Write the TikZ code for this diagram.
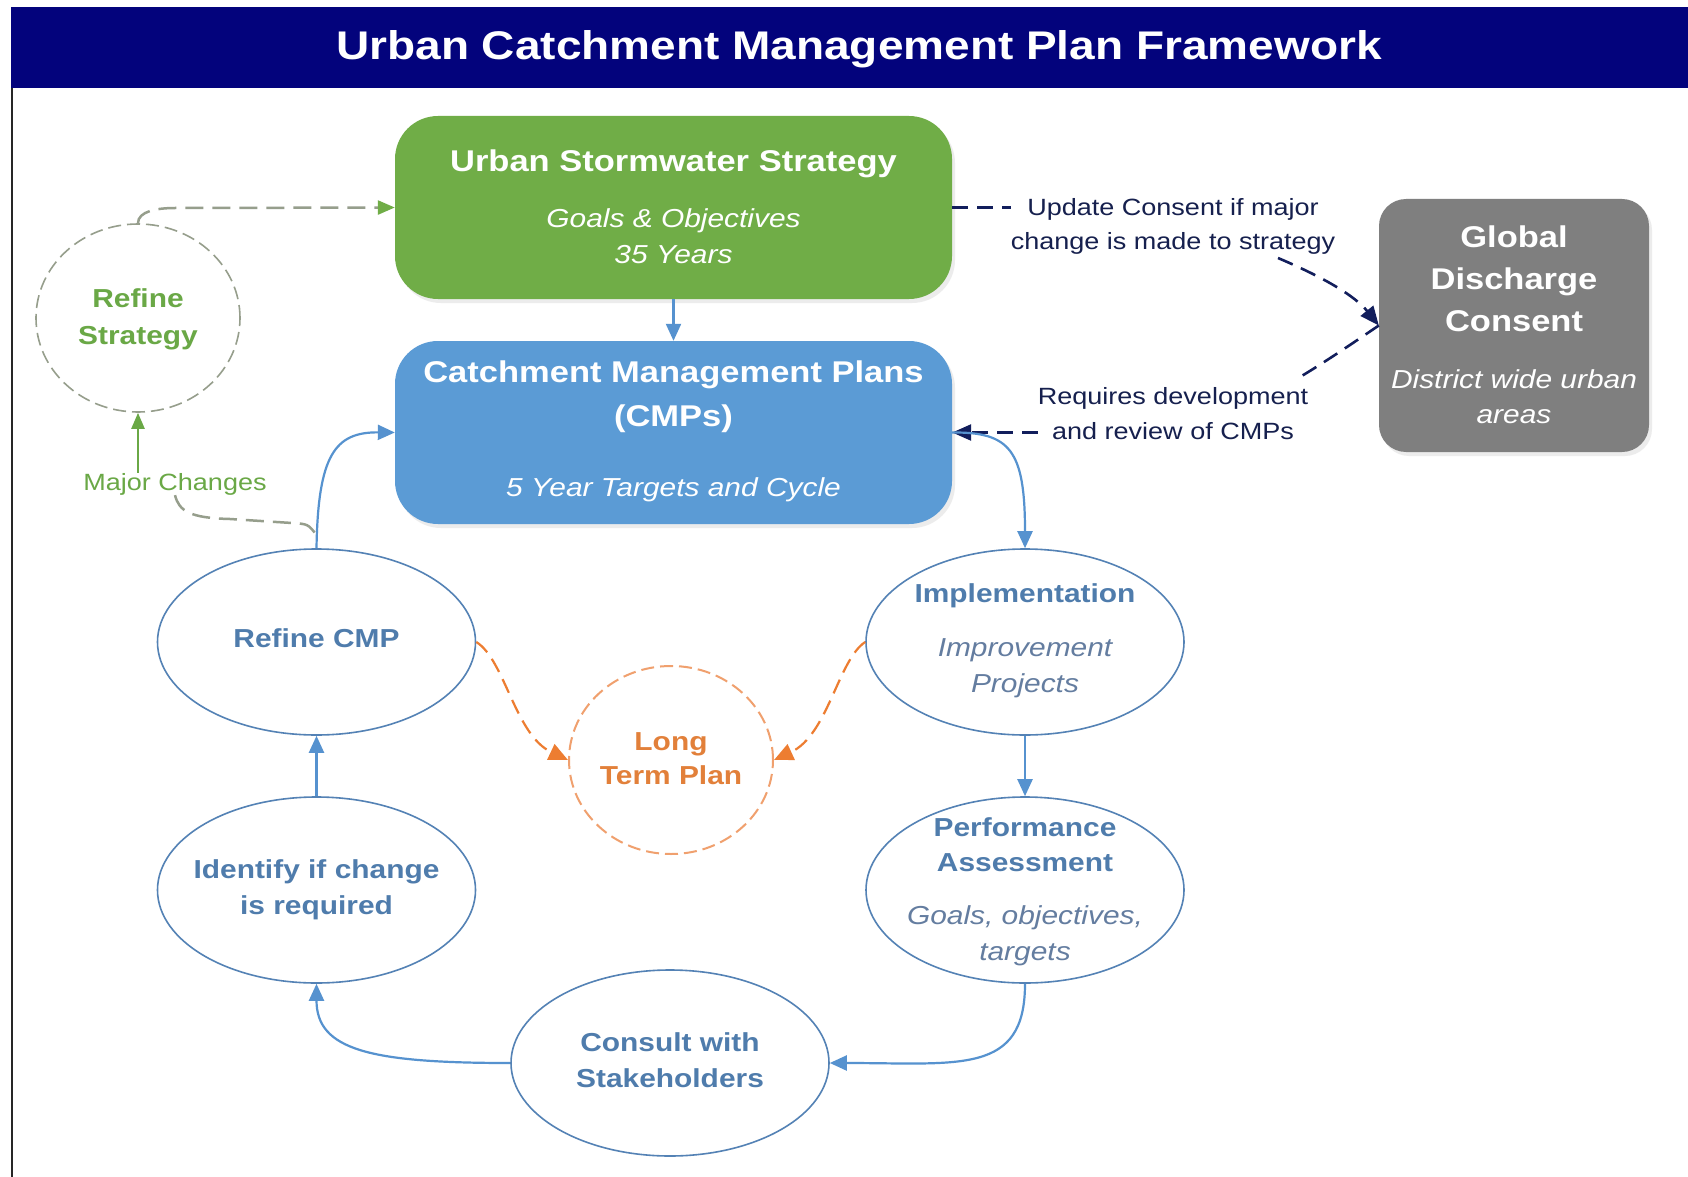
\documentclass[tikz,border=0pt]{standalone}
\usepackage{fontspec}
\setmainfont{Liberation Sans}[FakeStretch=1.15]
\usetikzlibrary{arrows.meta,shapes.geometric,shadows}

\definecolor{cnavybar}{RGB}{3,3,124}
\definecolor{cgreen}{RGB}{112,173,71}
\definecolor{cblue}{RGB}{91,155,213}
\definecolor{cgrey}{RGB}{127,127,127}
\definecolor{cring}{RGB}{84,130,181}
\definecolor{ctxtblue}{RGB}{79,124,172}
\definecolor{ctxtblueit}{RGB}{100,125,160}
\definecolor{carrblue}{RGB}{86,146,207}
\definecolor{cnavyline}{RGB}{18,30,92}
\definecolor{cnavytxt}{RGB}{22,32,78}
\definecolor{cdashgrey}{RGB}{150,158,140}
\definecolor{ctxtgreen}{RGB}{106,168,70}
\definecolor{corng}{RGB}{237,125,49}
\definecolor{corngtxt}{RGB}{226,128,58}
\definecolor{corngring}{RGB}{240,160,110}

\begin{document}
\begin{tikzpicture}[x=1pt,y=-1pt,
  bigbox/.style={rectangle, rounded corners=43pt, minimum width=557pt, minimum height=183pt, draw=none, inner sep=0pt,
    drop shadow={opacity=0.15, shadow xshift=3pt, shadow yshift=-4pt}},
  greybox/.style={rectangle, rounded corners=27pt, minimum width=270pt, minimum height=253pt, draw=none, inner sep=0pt, fill=cgrey,
    drop shadow={opacity=0.15, shadow xshift=3pt, shadow yshift=-4pt}},
  titletxt/.style={text=white, font=\fontsize{40}{48}\selectfont\bfseries, inner sep=0pt},
  whitebold/.style={text=white, align=center, inner sep=0pt, font=\fontsize{30}{42}\selectfont\bfseries},
  whiteit/.style={text=white, align=center, inner sep=0pt, font=\fontsize{26}{36}\selectfont\itshape},
  navylbl/.style={text=cnavytxt, align=center, inner sep=0pt, font=\fontsize{23.5}{34}\selectfont},
  ring/.style={ellipse, draw=cring, line width=1.6pt, fill=white, minimum width=318pt, minimum height=186pt, inner sep=0pt},
  dashring/.style={ellipse, line width=1.6pt, dash pattern=on 13pt off 6pt, fill=white, minimum width=204pt, minimum height=188pt, inner sep=0pt},
  ringtxt/.style={align=center, inner sep=0pt, text=ctxtblue, font=\fontsize{26}{36}\selectfont\bfseries},
  ringit/.style={align=center, inner sep=0pt, text=ctxtblueit, font=\fontsize{26}{36}\selectfont\itshape},
  bluearr/.style={draw=carrblue, line width=2.2pt, -{Triangle[length=17pt,width=15pt]}},
  navydash/.style={draw=cnavyline, line width=2.6pt, dash pattern=on 16pt off 9pt},
  navyarr/.style={navydash, -{Triangle[length=19pt,width=16pt]}},
  orngarr/.style={draw=corng, line width=2.2pt, dash pattern=on 15pt off 8pt, -{Triangle[length=19pt,width=17pt]}},
  greydash/.style={draw=cdashgrey, line width=2.5pt, dash pattern=on 18pt off 9pt},
]
\useasboundingbox (0,0) rectangle (1688,1177);
\fill[white] (0,0) rectangle (1688,1177);

% title bar and frame
\fill[cnavybar] (11,7) rectangle (1688,88);
\draw[line width=2.5pt, black!85] (12,88) -- (12,1177);
\node[titletxt] (title) at (859,49) {Urban Catchment Management Plan Framework};

% main boxes
\node[bigbox, fill=cgreen] (usss) at (673.5,207.5) {};
\node[whitebold] (usssT) at (673.5,164) {Urban Stormwater Strategy};
\node[whiteit] (usssS) at (673.5,236) {Goals \& Objectives\\35 Years};

\node[bigbox, fill=cblue] (cmp) at (673.5,432.5) {};
\node[whitebold, font=\fontsize{30}{44}\selectfont\bfseries] (cmpT) at (673.5,397) {Catchment Management Plans\\(CMPs)};
\node[whiteit] (cmpS) at (673.5,490) {5 Year Targets and Cycle};

\node[greybox] (gdc) at (1514,325.5) {};
\node[whitebold] (gdcT) at (1514,279) {Global\\Discharge\\Consent};
\node[whiteit, font=\fontsize{26}{35}\selectfont\itshape] (gdcS) at (1514,397) {District wide urban\\areas};

% labels of consent links
\node[navylbl] (upd) at (1173,226) {Update Consent if major\\change is made to strategy};
\node[navylbl, font=\fontsize{23.5}{35}\selectfont] (req) at (1173,414) {Requires development\\and review of CMPs};

% refine strategy
\node[dashring, draw=cdashgrey] (rs) at (138,318) {};
\node[align=center, inner sep=0pt, text=ctxtgreen, font=\fontsize{26}{37}\selectfont\bfseries] (rsT) at (138,319) {Refine\\Strategy};
\node[inner sep=0pt, text=ctxtgreen, font=\fontsize{23.5}{30}\selectfont] (mc) at (175,484) {Major Changes};

% cycle ellipses
\node[ring] (rcmp) at (316.5,642) {};
\node[ringtxt] (rcmpT) at (316.5,638) {Refine CMP};

\node[ring] (ident) at (316.5,890) {};
\node[ringtxt] (identT) at (316.5,890) {Identify if change\\is required};

\node[ring] (cons) at (670,1063) {};
\node[ringtxt] (consT) at (670,1060) {Consult with\\Stakeholders};

\node[ring] (impl) at (1025,642) {};
\node[ringtxt] (implT) at (1025,596) {Implementation};
\node[ringit] (implS) at (1025,668) {Improvement\\Projects};

\node[ring] (perf) at (1025,890) {};
\node[ringtxt, font=\fontsize{26}{35}\selectfont\bfseries] (perfT) at (1025,844.5) {Performance\\Assessment};
\node[ringit] (perfS) at (1025,936) {Goals, objectives,\\targets};

\node[dashring, draw=corngring, line width=2pt] (ltp) at (671,760) {};
\node[align=center, inner sep=0pt, text=corngtxt, font=\fontsize{26}{34}\selectfont\bfseries] (ltpT) at (671,759) {Long\\Term Plan};

% connectors
\coordinate (c1) at (1278,258);
\coordinate (c2) at (1300,377);
\coordinate (mcend) at (316.5,535);

\draw[bluearr] (usss.south) -- (cmp.north);

\draw[navydash] (usss.east) -- (usss.east -| upd.west);
\draw[navyarr] (c1) .. controls (1325,278) and (1355,296) .. (gdc.west);
\draw[navydash] (gdc.west) .. controls (1350,345) and (1325,362) .. (c2);
\draw[navyarr] (req.west |- cmp.east) -- (cmp.east);

\draw[greydash, -{Triangle[length=17pt,width=14pt,color=cgreen]}] (rs.north) .. controls +(0,-12) and +(-18,0) .. (175,208) -- (usss.west);
\draw[draw=ctxtgreen, line width=2.2pt, -{Triangle[length=16pt,width=13pt]}] (rs.south |- mc.north) -- (rs.south);
\draw[greydash] (mc.south) .. controls +(4,16) and (190,518) .. (230,519) -- (292,523) .. controls (308,524) .. (mcend);

\draw[bluearr] (rcmp.north) .. controls (318,455) and (335,432) .. (cmp.west);
\draw[bluearr] (cmp.east) .. controls (1010,432) and (1025,450) .. (impl.north);
\draw[bluearr] (impl.south) -- (perf.north);
\draw[bluearr] (perf.south) .. controls (1025,1075) and (960,1063) .. (cons.east);
\draw[bluearr] (cons.west) .. controls (370,1063) and (316.5,1050) .. (ident.south);
\draw[bluearr] (ident.north) -- (rcmp.south);

\draw[orngarr] (rcmp.east) .. controls (505,660) and (515,735) .. (ltp.west);
\draw[orngarr] (impl.west) .. controls (838,660) and (828,735) .. (ltp.east);
\end{tikzpicture}
\end{document}
